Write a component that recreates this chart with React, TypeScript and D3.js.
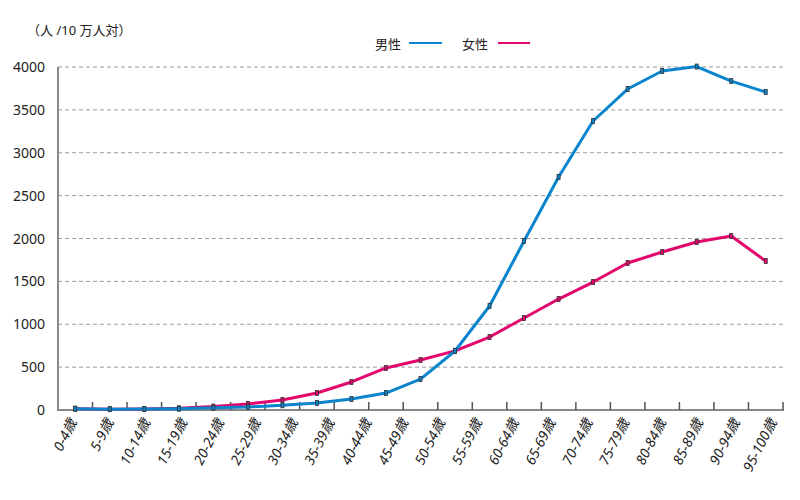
import React from "react";
import * as d3 from "d3";

const ageLabels = [
  "0-4歳", "5-9歳", "10-14歳", "15-19歳", "20-24歳", "25-29歳", "30-34歳", "35-39歳",
  "40-44歳", "45-49歳", "50-54歳", "55-59歳", "60-64歳", "65-69歳", "70-74歳", "75-79歳",
  "80-84歳", "85-89歳", "90-94歳", "95-100歳",
];
const maleValues = [15, 10, 12, 15, 25, 35, 55, 82, 128, 198, 361, 688, 1213, 1970, 2717, 3370, 3743, 3953, 4005, 3836, 3708];
const femaleValues = [15, 10, 12, 20, 40, 70, 117, 198, 327, 490, 583, 690, 851, 1073, 1294, 1492, 1714, 1842, 1959, 2029, 1737];
const yTicks = [0, 500, 1000, 1500, 2000, 2500, 3000, 3500, 4000];

const W = 800, H = 500;
const L = 58, R = 783, T = 67, B = 410;
const BLUE = "#0a84cc";
const PINK = "#e3076d";
const FONT = "'Noto Sans', 'Noto Sans CJK JP', sans-serif";

export default function App() {
  const slots = d3.range(maleValues.length);
  const x = d3.scaleBand<number>().domain(slots).range([L, R]).padding(0);
  const xl = d3.scalePoint<string>().domain(ageLabels).range([77, 777]);
  const y = d3.scaleLinear().domain([0, 4000]).range([B, T]);
  const cx = (i: number) => (x(i) as number) + x.bandwidth() / 2;
  const line = d3.line<number>().x((_, i) => cx(i)).y((d) => y(d));

  const series = [
    { vals: femaleValues, color: PINK },
    { vals: maleValues, color: BLUE },
  ];

  return (
    <svg width={W} height={H} style={{ position: "absolute", left: 0, top: 0, background: "#fff" }}>
      <text x={27} y={35} fontFamily={FONT} fontSize={13} fill="#222">（人 /10 万人対）</text>
      {/* legend */}
      <text x={375} y={49} fontFamily={FONT} fontSize={13} fill="#222">男性</text>
      <line x1={409} x2={442} y1={43} y2={43} stroke={BLUE} strokeWidth={2} />
      <text x={462} y={49} fontFamily={FONT} fontSize={13} fill="#222">女性</text>
      <line x1={498} x2={530} y1={43} y2={43} stroke={PINK} strokeWidth={2} />

      {/* grid */}
      {yTicks.filter((t) => t > 0).map((t) => (
        <line key={t} x1={L} x2={R + 2} y1={y(t)} y2={y(t)} stroke="#999" strokeWidth={1} strokeDasharray="4,3" />
      ))}
      {yTicks.map((t) => (
        <text key={t} x={45} y={y(t) + 5} textAnchor="end" fontFamily={FONT} fontSize={14} fill="#222">{t}</text>
      ))}
      {/* axes */}
      <line x1={L} x2={L} y1={T} y2={B + 1} stroke="#888" strokeWidth={2} />
      <line x1={L} x2={R + 1} y1={B} y2={B} stroke="#888" strokeWidth={2} />
      {slots.map((i) => (
        <line key={i} x1={(x(i) as number) + x.bandwidth()} x2={(x(i) as number) + x.bandwidth()} y1={B - 8} y2={B} stroke="#555" strokeWidth={1.5} />
      ))}
      {/* labels */}
      {ageLabels.map((lab) => (
        <text key={lab} transform={`translate(${xl(lab)},${B + 12}) rotate(-63)`} textAnchor="end" fontFamily={FONT} fontSize={14} fontStyle="italic" fill="#222">{lab}</text>
      ))}
      {/* lines */}
      {series.map((s, k) => (
        <g key={k}>
          <path d={line(s.vals) || ""} fill="none" stroke={s.color} strokeWidth={3} strokeLinejoin="round" />
          {s.vals.map((v, i) => (
            <rect key={i} x={cx(i) - 1.5} y={y(v) - 2.5} width={3} height={5} fill={s.color} stroke="#333" strokeWidth={0.8} />
          ))}
        </g>
      ))}
    </svg>
  );
}
